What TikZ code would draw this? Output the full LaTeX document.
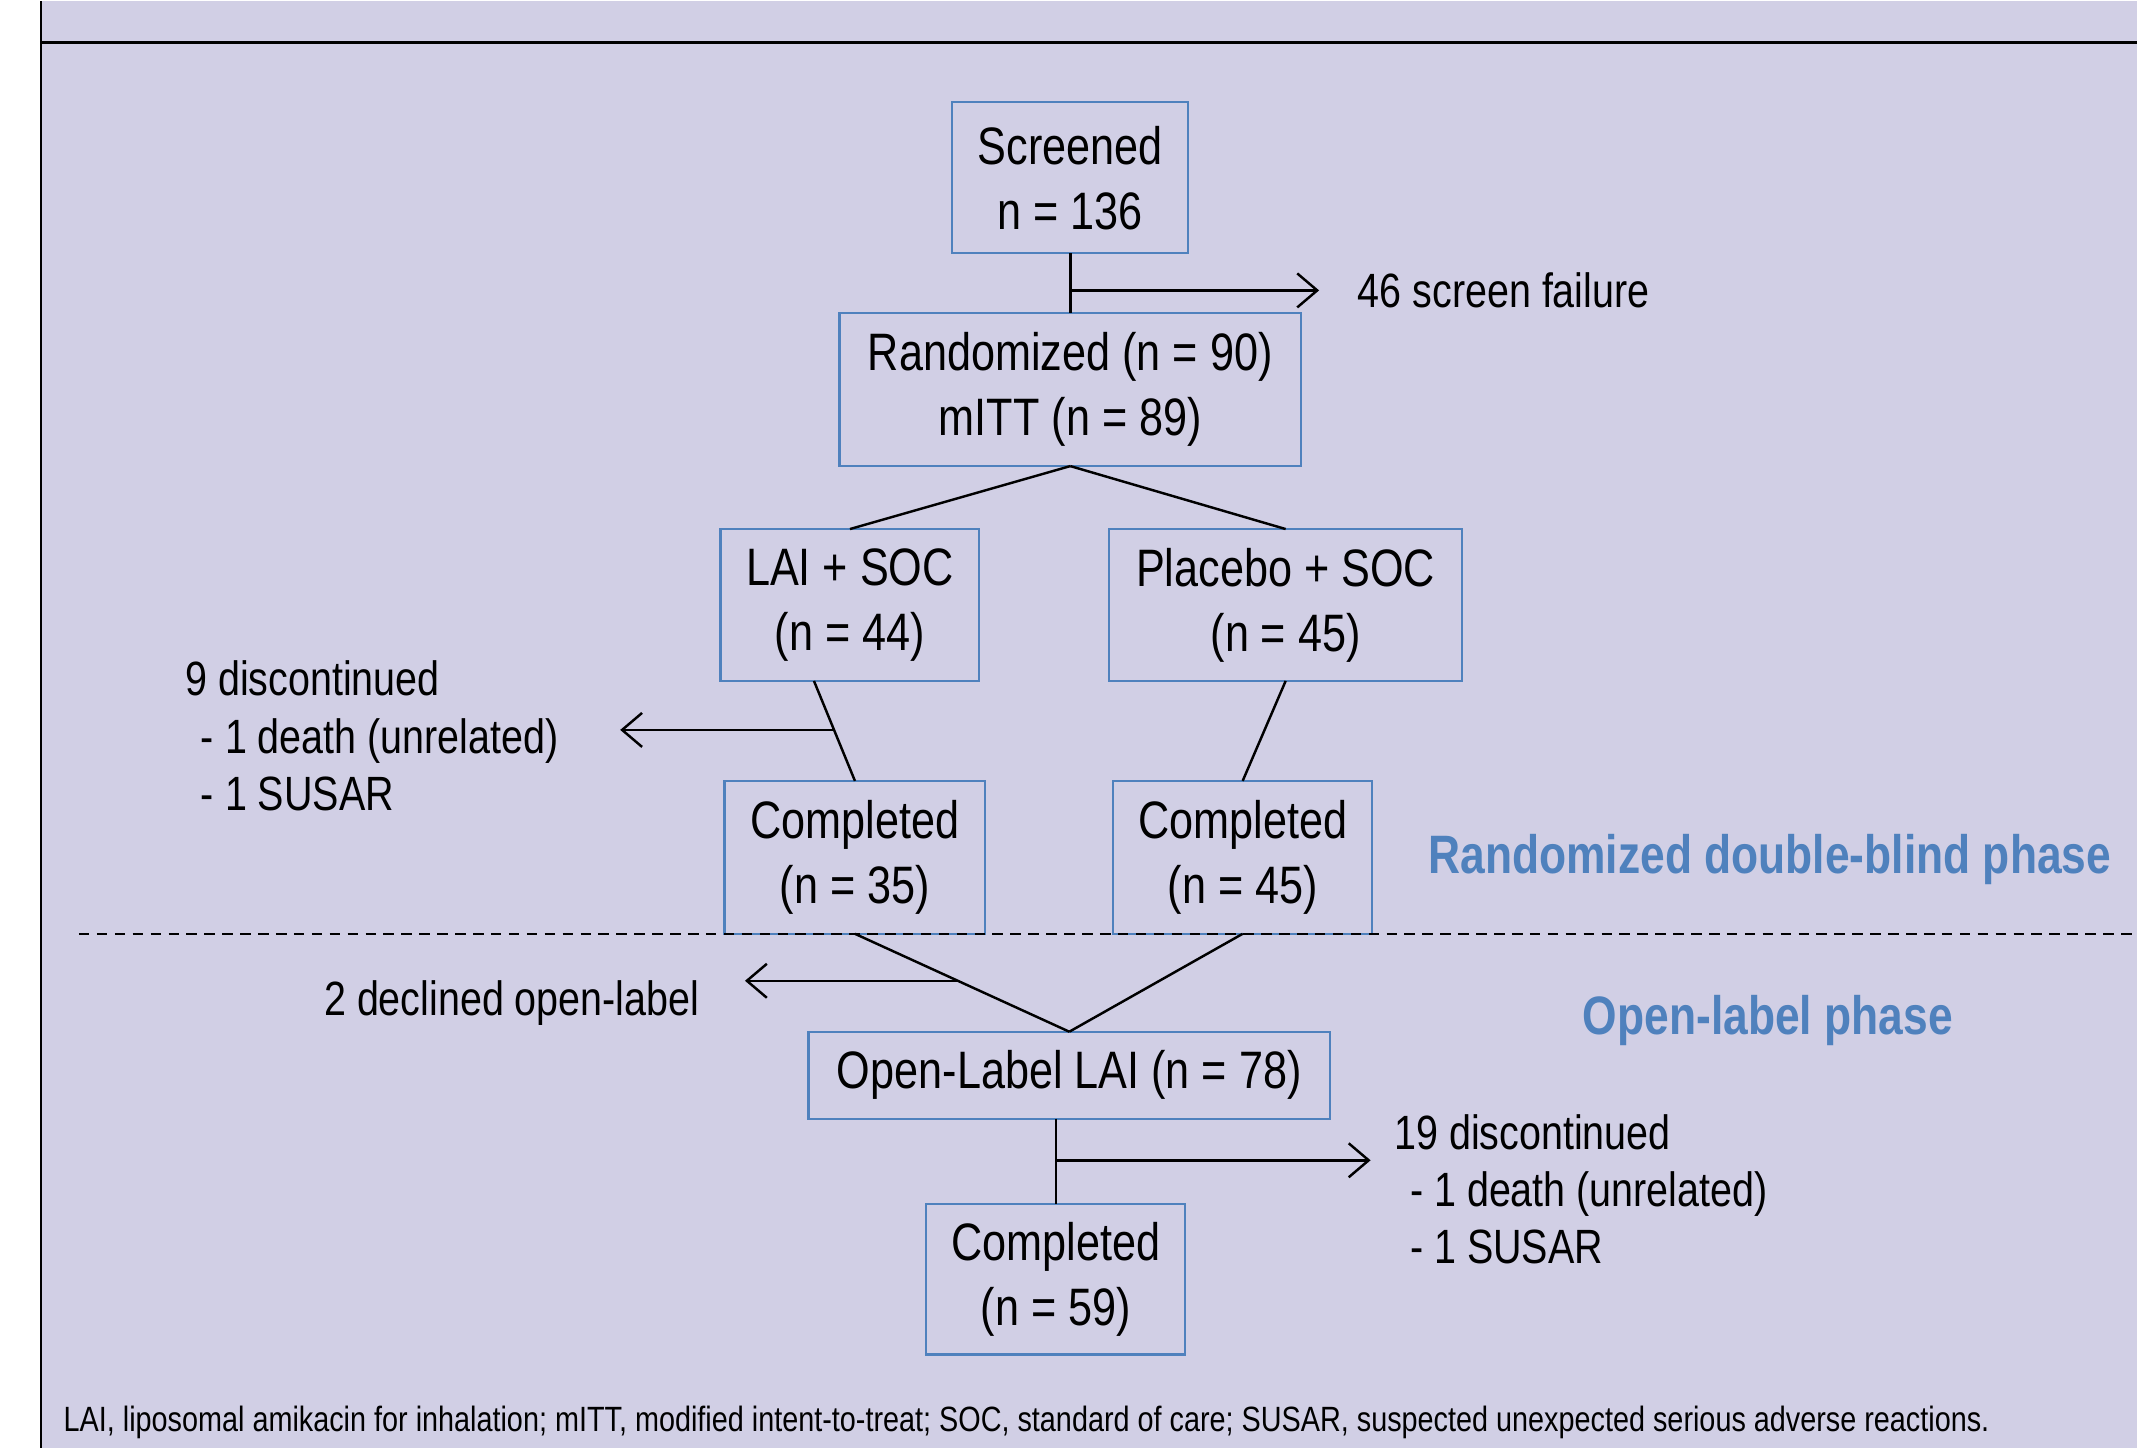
\documentclass[tikz,border=0pt]{standalone}
\usepackage{fontspec}
\setmainfont{Liberation Sans}[FakeStretch=0.82]
\usepackage{tikz}
\usetikzlibrary{arrows.meta,positioning,calc}
\definecolor{panel}{HTML}{D1CFE5}
\definecolor{boxblue}{HTML}{4F81BD}
\tikzset{
  flowbox/.style={rectangle,draw=boxblue,line width=0.6pt,text=black,align=center,
    font=\fontsize{15}{18.5}\selectfont,minimum height=1.52cm,minimum width=2.59cm,
    inner sep=2pt,outer sep=0pt},
  flowline/.style={line width=0.7pt,color=black},
  flowarr/.style={-{Straight Barb[length=2mm,width=3.4mm]},line width=0.7pt,color=black},
  sidenote/.style={align=left,font=\fontsize{13.7}{16.3}\selectfont,inner sep=0pt,text=black},
  phaselabel/.style={font=\fontsize{15.4}{18}\selectfont\bfseries,text=boxblue,inner sep=0pt},
}

\begin{document}
\begin{tikzpicture}
  % panel and frame
  \fill[white] (0,0) rectangle (21.38,-14.48);
  \fill[panel] (0.41,0) rectangle (21.38,-14.48);
  \draw[line width=0.8pt] (0.41,0) -- (0.41,-14.48);
  \draw[line width=0.8pt] (0.41,-0.41) -- (21.38,-0.41);
  \useasboundingbox (0,0) rectangle (21.38,-14.48);

  % boxes
  \node[flowbox,minimum width=2.36cm,minimum height=1.51cm] (scr) at (10.71,-1.765) {Screened\\n = 136};
  \node[flowbox,minimum width=4.62cm,minimum height=1.53cm,below=0.60cm of scr] (rnd) {Randomized (n = 90)\\mITT (n = 89)};
  \node[flowbox,below=0.63cm of rnd,xshift=-2.205cm] (lai) {LAI + SOC\\(n = 44)};
  \node[flowbox,minimum width=3.53cm,right=1.30cm of lai] (plc) {Placebo + SOC\\(n = 45)};
  \node[flowbox,minimum width=2.61cm,minimum height=1.53cm,below=1.00cm of lai,xshift=0.05cm] (cl) {Completed\\(n = 35)};
  \node[flowbox,minimum height=1.53cm,right=1.28cm of cl] (cr) {Completed\\(n = 45)};
  \node[flowbox,minimum width=5.22cm,minimum height=0.87cm,below=0.98cm of cl,xshift=2.145cm] (ol) {Open-Label LAI (n = 78)};
  \node[flowbox,minimum height=1.51cm,below=0.85cm of ol,xshift=-0.135cm] (cb) {Completed\\(n = 59)};

  % screening
  \draw[flowline] (scr) -- (rnd);
  \coordinate (fork1) at ($(scr.south)!0.62!(rnd.north)$);
  \node[sidenote,right=2.87cm of fork1] (fail) {46 screen failure};
  \draw[flowarr,shorten >=0.38cm] (fork1) -- (fork1 -| fail.west);

  % randomization
  \draw[flowline] (rnd.south) -- (lai.north);
  \draw[flowline] (rnd.south) -- (plc.north);

  % double-blind phase
  \draw[flowline] ([xshift=-0.36cm]lai.south) -- (cl.north);
  \coordinate (fork2) at ($([xshift=-0.36cm]lai.south)!0.49!(cl.north)$);
  \node[sidenote,left=2.75cm of fork2,yshift=-0.06cm] (disc1) {9 discontinued\\\hspace*{4.5pt}- 1 death (unrelated)\\\hspace*{4.5pt}- 1 SUSAR};
  \draw[flowarr,shorten >=0.61cm] (fork2) -- (fork2 -| disc1.east);
  \draw[flowline] (plc.south) -- (cr.north);

  % into open-label
  \draw[flowline] (cl.south) -- (ol.north);
  \draw[flowline] (cr.south) -- (ol.north);
  \coordinate (fork3) at ($(cl.south)!0.48!(ol.north)$);
  \node[sidenote,left=2.58cm of fork3,yshift=-0.22cm] (decl) {2 declined open-label};
  \draw[flowarr,shorten >=0.45cm] (fork3) -- (fork3 -| decl.east);

  % open-label phase
  \draw[flowline] (cb.north |- ol.south) -- (cb.north);
  \coordinate (fork4) at ($(cb.north |- ol.south)!0.49!(cb.north)$);
  \node[sidenote,right=3.38cm of fork4,yshift=-0.29cm] (disc2) {19 discontinued\\\hspace*{4.5pt}- 1 death (unrelated)\\\hspace*{4.5pt}- 1 SUSAR};
  \draw[flowarr,shorten >=0.23cm] (fork4) -- (fork4 -| disc2.west);

  % phase split
  \draw[line width=0.6pt,dash pattern=on 3pt off 2.1pt] (0.79,-9.33) -- (21.38,-9.33);
  \node[phaselabel] (rdb) at (17.71,-8.59) {Randomized double-blind phase};
  \node[phaselabel] (olp) at (17.69,-10.20) {Open-label phase};

  \node[anchor=west,inner sep=0pt,font=\fontsize{10}{12}\selectfont] (note) at (0.63,-14.22) {LAI, liposomal amikacin for inhalation; mITT, modified intent-to-treat; SOC, standard of care; SUSAR, suspected unexpected serious adverse reactions.};
\end{tikzpicture}
\end{document}
